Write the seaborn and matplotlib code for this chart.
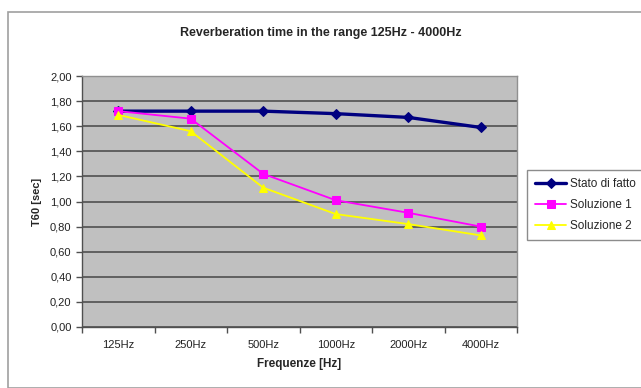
import matplotlib
matplotlib.use("Agg")
import matplotlib.pyplot as plt
import seaborn as sns
import pandas as pd
from matplotlib.patches import Rectangle
from matplotlib.ticker import FixedLocator, FuncFormatter

categories = ["125Hz", "250Hz", "500Hz", "1000Hz", "2000Hz", "4000Hz"]
stato_di_fatto = [1.72, 1.72, 1.72, 1.70, 1.67, 1.59]
soluzione_1 = [1.72, 1.66, 1.22, 1.01, 0.91, 0.80]
soluzione_2 = [1.69, 1.56, 1.11, 0.90, 0.82, 0.73]
series_names = ["Stato di fatto", "Soluzione 1", "Soluzione 2"]

df = pd.DataFrame({
    "freq": categories * 3,
    "T60": stato_di_fatto + soluzione_1 + soluzione_2,
    "serie": [series_names[0]] * 6 + [series_names[1]] * 6 + [series_names[2]] * 6,
})

sns.set_theme(style="white")
plt.rcParams["font.family"] = ["Liberation Sans", "DejaVu Sans"]

fig = plt.figure(figsize=(6.41, 3.88), dpi=100)
fig.patch.set_facecolor("white")
fig.patches.append(Rectangle((8 / 641, 0.0), 1.0, 1 - 12 / 388, transform=fig.transFigure,
                             fill=False, edgecolor="#a0a0a0", linewidth=1.2, zorder=0))

ax = fig.add_axes([82 / 641, 1 - 327 / 388, (517 - 82) / 641, (327 - 76) / 388])
ax.set_facecolor("#c0c0c0")

palette = {"Stato di fatto": "#000080", "Soluzione 1": "#ff00ff", "Soluzione 2": "#ffff00"}
markers = {"Stato di fatto": "D", "Soluzione 1": "s", "Soluzione 2": "^"}
sizes = {"Stato di fatto": 5, "Soluzione 1": 6, "Soluzione 2": 6}
widths = {"Stato di fatto": 2.4, "Soluzione 1": 1.3, "Soluzione 2": 1.3}

for name in series_names:
    sub = df[df["serie"] == name]
    sns.lineplot(data=sub, x="freq", y="T60", ax=ax, color=palette[name], marker=markers[name],
                 markersize=sizes[name], markeredgecolor=palette[name], linewidth=widths[name],
                 label=name, sort=False, zorder=3)

ax.set_xlim(-0.5, 5.5)
ax.set_ylim(0, 2.0)
ax.yaxis.set_major_locator(FixedLocator([i * 0.2 for i in range(11)]))
ax.yaxis.set_major_formatter(FuncFormatter(lambda v, p: f"{v:.2f}".replace(".", ",")))
ax.grid(axis="y", color="#505050", linewidth=1.2, linestyle="-")
ax.set_axisbelow(True)

ax.xaxis.set_minor_locator(FixedLocator([i + 0.5 for i in range(-1, 6)]))
ax.tick_params(axis="x", which="major", length=0, pad=9, labelsize=8, colors="#222222")
ax.tick_params(axis="x", which="minor", length=4, color="#505050", width=1, direction="out")
ax.tick_params(axis="y", which="major", length=4, color="#505050", width=1, direction="out",
               labelsize=8, colors="#222222")
ax.tick_params(bottom=True, left=True, which="both")

for side in ["left", "bottom"]:
    ax.spines[side].set_color("#505050")
    ax.spines[side].set_linewidth(1.0)
for side in ["top", "right"]:
    ax.spines[side].set_color("#909090")
    ax.spines[side].set_linewidth(1.0)

ax.set_xlabel("Frequenze [Hz]", fontsize=8.5, fontweight="bold", labelpad=6)
ax.set_ylabel("T60 [sec]", fontsize=8, fontweight="bold", labelpad=6)
fig.text(0.5, 1 - 33 / 388, "Reverberation time in the range 125Hz - 4000Hz",
         ha="center", va="center", fontsize=9, fontweight="bold")

leg = ax.legend(loc="upper left", bbox_to_anchor=(527 / 641, 1 - 170 / 388),
                bbox_transform=fig.transFigure, frameon=True, fancybox=False,
                fontsize=8.5, handlelength=2.6, borderpad=0.7, labelspacing=0.75,
                handletextpad=0.3, borderaxespad=0)
leg.get_frame().set_edgecolor("#707070")
leg.get_frame().set_linewidth(1.0)

fig.savefig("out.png", dpi=100)
